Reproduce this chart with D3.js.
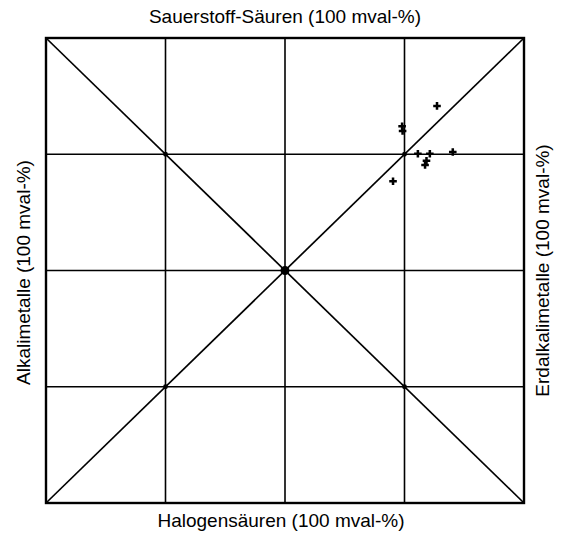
<!DOCTYPE html>
<html>
<head>
<meta charset="utf-8">
<script src="https://cdn.jsdelivr.net/npm/d3@7"></script>
<style>
  html, body { margin: 0; padding: 0; background: #fff; }
  svg { display: block; }
</style>
</head>
<body>
<script>
// Grid divisions along each axis (percent of the square)
const gridTicks = [25, 50, 75];
// Junction points marked on the diagram (x, y in percent)
const junctions = [[25, 75], [75, 75], [50, 50], [25, 25], [75, 25]];
// Sample points: x = Erdalkali/Halogen share, y = Sauerstoff share (percent)
const sampleX = [81.8, 74.5, 74.6, 77.8, 80.3, 79.6, 79.3, 85.1, 72.6];
const sampleY = [85.4, 81.0, 80.0, 75.1, 75.1, 73.6, 72.7, 75.5, 69.2];
// Axis titles
const titleTop = "Sauerstoff-Säuren (100 mval-%)";
const titleBottom = "Halogensäuren (100 mval-%)";
const titleLeft = "Alkalimetalle (100 mval-%)";
const titleRight = "Erdalkalimetalle (100 mval-%)";

const W = 561, H = 533;
const frame = { left: 46, right: 524, top: 38, bottom: 503 };

const svg = d3.select("body").append("svg").attr("width", W).attr("height", H);

const x = d3.scaleLinear().domain([0, 100]).range([frame.left, frame.right]);
const y = d3.scaleLinear().domain([0, 100]).range([frame.bottom, frame.top]);

const g = svg.append("g");

// interior grid
g.selectAll("line.v").data(gridTicks).join("line")
  .attr("class", "v")
  .attr("x1", d => x(d)).attr("x2", d => x(d))
  .attr("y1", y(0)).attr("y2", y(100))
  .attr("stroke", "#000").attr("stroke-width", 1.6);
g.selectAll("line.h").data(gridTicks).join("line")
  .attr("class", "h")
  .attr("y1", d => y(d)).attr("y2", d => y(d))
  .attr("x1", x(0)).attr("x2", x(100))
  .attr("stroke", "#000").attr("stroke-width", 1.6);

// diagonals
const diags = [[[0, 100], [100, 0]], [[0, 0], [100, 100]]];
g.selectAll("line.d").data(diags).join("line")
  .attr("class", "d")
  .attr("x1", d => x(d[0][0])).attr("y1", d => y(d[0][1]))
  .attr("x2", d => x(d[1][0])).attr("y2", d => y(d[1][1]))
  .attr("stroke", "#000").attr("stroke-width", 1.7);

// outer frame
g.append("rect")
  .attr("x", x(0)).attr("y", y(100))
  .attr("width", x(100) - x(0)).attr("height", y(0) - y(100))
  .attr("fill", "none").attr("stroke", "#000").attr("stroke-width", 2.4);

// junction dots
g.selectAll("circle.j").data(junctions).join("circle")
  .attr("class", "j")
  .attr("cx", d => x(d[0])).attr("cy", d => y(d[1]))
  .attr("r", d => d[0] === 50 ? 4.5 : 2.4)
  .attr("fill", "#000");

// sample markers
const cross = d3.symbol().type(d3.symbolCross).size(32);
g.selectAll("path.s").data(sampleX.map((v, i) => [v, sampleY[i]])).join("path")
  .attr("class", "s")
  .attr("d", cross)
  .attr("transform", d => `translate(${x(d[0])},${y(d[1])})`)
  .attr("fill", "#000");

// titles
const font = "Liberation Sans, Arial, Helvetica, sans-serif";
const fs = 19;
svg.append("text").text(titleTop)
  .attr("x", x(50)).attr("y", 23)
  .attr("text-anchor", "middle").attr("font-family", font).attr("font-size", fs);
svg.append("text").text(titleBottom)
  .attr("x", x(50) - 4).attr("y", 527)
  .attr("text-anchor", "middle").attr("font-family", font).attr("font-size", fs);
svg.append("text").text(titleLeft)
  .attr("transform", `translate(30,${y(50) + 2}) rotate(-90)`)
  .attr("text-anchor", "middle").attr("font-family", font).attr("font-size", fs);
svg.append("text").text(titleRight)
  .attr("transform", `translate(549,${y(50)}) rotate(-90)`)
  .attr("text-anchor", "middle").attr("font-family", font).attr("font-size", fs);
</script>
</body>
</html>
